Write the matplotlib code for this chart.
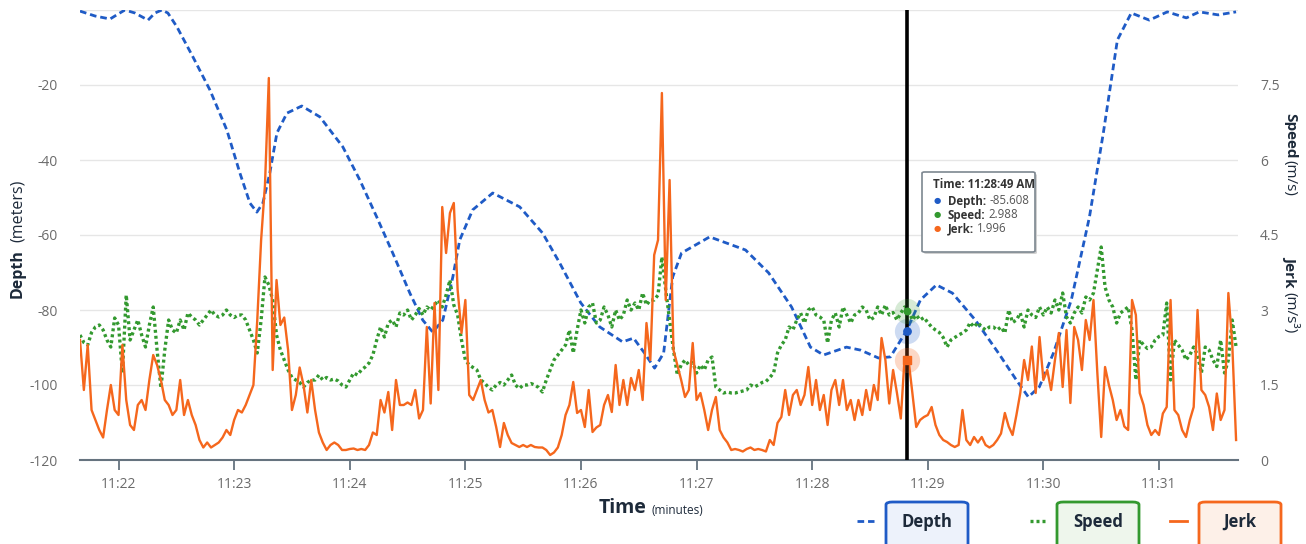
import numpy as np
import matplotlib
matplotlib.use("Agg")
import matplotlib.pyplot as plt
import matplotlib.dates as mdates
from matplotlib.patches import FancyBboxPatch
from matplotlib.lines import Line2D

plt.rcParams['font.family'] = ['Open Sans', 'DejaVu Sans']
plt.rcParams['axes.unicode_minus'] = False

# Data
START = np.datetime64('2024-01-01T11:21:40')
SAMPLE_SEC = 2  # speed / jerk are sampled every 2 s from START

# depth: (seconds after START, metres)
depth_sec = [0, 7.8, 15.6, 19.7, 23.3, 28.5, 35.3, 38.9, 42.5, 45.6, 50.3, 58.6,
             67.4, 76.2, 83, 88.2, 91.8, 94.9, 98.5, 102.2, 107.4, 115.1, 124.5,
             136.4, 145.2, 154, 162.3, 171.2, 177.9, 183.1, 188.3, 193.5, 197.1,
             203.8, 214.2, 228.2, 240.1, 249, 259.9, 269.7, 281.6, 287.3, 293.0,
             298.2, 302.9, 307.6, 312.2, 326.8, 345.4, 357.4, 369.3, 379.1, 385.9,
             397.8, 405.1, 414.4, 420.6, 428.9, 436.2, 444.5, 452.8, 464.7, 476.7,
             486, 492.2, 497.9, 505.2, 514.5, 523.9, 531.1, 538.4, 545.6, 555,
             564.3, 574.2, 580.9, 590.7, 600]
depth_m = [-0.3, -1.6, -2.4, -1.1, 0, -0.8, -2.7, -0.8, 0, -0.8, -4.5, -12.5,
           -21.3, -32, -43.5, -51.5, -53.9, -51.5, -43.5, -32.8, -27.5, -25.6, -28.5,
           -36.5, -45.3, -55.2, -64.8, -75.5, -82.7, -85.9, -82.7, -71.2, -61.3,
           -53.3, -48.8, -52.5, -59.5, -67.5, -78.1, -84.5, -88.5, -87.5, -91.5,
           -95.5, -91.5, -71.2, -64.8, -60.5, -64, -70.1, -79.2, -89.9, -92,
           -89.9, -90.7, -92.8, -92.5, -85.6, -77.3, -73.3, -75.5, -82.7, -91.5,
           -98.7, -103.2, -100.5, -91.5, -77.3, -55.2, -32.8, -8, -0.8, -2.7,
           -0.5, -2.1, -0.5, -1.3, -0.5]

speed = [
    2.5, 2.35, 2.3, 2.55, 2.66, 2.7, 2.6, 2.4, 2.26, 2.84,
    2.7, 1.74, 3.3, 2.4, 2.6, 2.8, 2.5, 2.26, 2.7, 3.06,
    2.2, 1.44, 2.2, 2.8, 2.6, 2.54, 2.8, 2.6, 2.94, 2.86,
    2.8, 2.7, 2.8, 2.9, 3.0, 2.9, 2.86, 2.9, 3.0, 2.9,
    2.85, 2.9, 2.9, 2.8, 2.6, 2.4, 2.14, 2.8, 3.66, 3.5,
    3.2,
    2.5, 2.2, 2.0, 1.8, 1.65, 1.6, 1.55, 1.46, 1.55, 1.6,
    1.6, 1.7, 1.6, 1.65, 1.6, 1.62, 1.58, 1.5, 1.46, 1.6,
    1.74, 1.7, 1.8, 1.86, 1.94, 2.1, 2.4, 2.66, 2.46, 2.74,
    2.8, 2.66, 2.94, 2.9, 3.0, 2.8, 2.9, 3.03, 2.9, 3.06,
    3.0, 3.1, 3.2, 3.06, 3.3, 3.6, 3.1, 2.9, 2.4, 2.0,
    1.9, 1.85, 1.8, 1.6, 1.54, 1.45, 1.4, 1.5, 1.55, 1.5,
    1.6, 1.7, 1.5, 1.43, 1.5, 1.5, 1.53, 1.5, 1.45, 1.36,
    1.6, 1.8, 2.0, 2.1, 2.2, 2.3, 2.6, 2.14, 2.6, 3.0,
    2.74, 3.06, 3.14, 2.74, 2.8, 3.06, 2.9, 2.66, 3.0, 2.8,
    2.9, 3.2, 3.0, 3.14, 3.0, 3.34, 3.1, 3.2, 3.2, 3.3,
    4.06, 3.4, 2.8, 2.2, 1.7, 1.9, 2.0, 1.9, 1.95, 1.74,
    1.9, 1.8, 2.0, 2.06, 1.46, 1.4, 1.34, 1.36, 1.34, 1.34,
    1.36, 1.38, 1.4, 1.5, 1.46, 1.5, 1.55, 1.57, 1.65, 1.74,
    2.14, 2.3, 2.4, 2.66, 2.6, 2.8, 2.94, 2.74, 3.0, 3.06,
    2.9, 2.86, 2.8, 2.34, 2.8, 2.94, 2.66, 3.06, 2.9, 2.74,
    2.9, 2.94, 3.06, 3.0, 2.8, 2.85, 3.06, 2.9, 3.1, 2.9,
    2.95, 2.8, 2.94, 3.06, 3.0, 2.8, 2.9, 2.8, 2.85, 2.75,
    2.66, 2.6, 2.55, 2.45, 2.26, 2.4, 2.45, 2.5, 2.54, 2.6,
    2.75, 2.66, 2.75, 2.66, 2.6, 2.66, 2.66, 2.6, 2.66, 2.54,
    3.0, 2.75, 2.8, 2.94, 2.66, 3.0, 2.9, 2.85, 3.06, 2.9,
    3.06, 2.94, 3.2, 3.0, 3.34, 2.86, 2.74, 2.94, 3.06, 2.94,
    3.26, 3.2, 3.34, 3.8, 4.26, 3.46, 3.2, 3.06, 2.74, 2.94,
    3.0, 3.06, 2.6, 1.6, 2.4, 2.3, 2.23, 2.26, 2.4, 2.47,
    2.5, 3.14, 1.6, 2.4, 2.3, 2.2, 2.0, 2.1, 2.26, 2.1,
    1.74, 2.26, 2.2, 2.0, 1.87, 2.4, 1.74, 2.0, 2.8, 2.26,
]

jerk = [
    2.4, 1.4, 2.3, 1.0, 0.8, 0.6, 0.45, 1.0, 1.5, 1.0,
    0.9, 2.3, 1.2, 0.7, 0.6, 1.1, 1.2, 1.0, 1.6, 2.1,
    1.9, 1.6, 1.2, 1.1, 0.9, 1.0, 1.6, 0.9, 1.2, 0.9,
    0.7, 0.4, 0.25, 0.35, 0.25, 0.3, 0.35, 0.45, 0.6, 0.5,
    0.8, 1.0, 0.95, 1.1, 1.3, 1.5, 2.8, 4.4, 5.5, 7.64,
    1.8,
    3.6, 2.7, 2.85, 2.2, 1.0, 1.3, 1.85, 1.5, 0.95, 1.6,
    1.0, 0.55, 0.35, 0.2, 0.3, 0.35, 0.3, 0.2, 0.2, 0.22,
    0.23, 0.2, 0.22, 0.2, 0.3, 0.55, 0.5, 1.2, 0.95, 1.36,
    0.6, 1.6, 1.1, 1.1, 1.15, 1.1, 1.4, 0.83, 1.0, 2.66,
    1.13, 3.14, 1.4, 5.06, 4.14, 4.94, 5.14, 3.4, 2.54, 3.2,
    1.3, 1.2, 1.4, 1.6, 1.2, 0.95, 1.0, 0.66, 0.26, 0.74,
    0.5, 0.34, 0.3, 0.26, 0.3, 0.26, 0.3, 0.26, 0.25, 0.25,
    0.2, 0.1, 0.15, 0.25, 0.5, 0.9, 1.1, 1.56, 0.94, 1.0,
    0.66, 1.4, 0.56, 0.65, 0.7, 1.1, 1.3, 0.96, 1.9, 1.1,
    1.6, 1.1, 1.64, 1.4, 1.8, 1.2, 2.74, 2.0, 4.1, 4.4,
    7.34, 3.2, 5.6, 2.2, 1.9, 1.6, 1.26, 1.4, 2.34, 1.2,
    1.34, 1.0, 0.6, 1.0, 1.26, 0.6, 0.45, 0.35, 0.2, 0.22,
    0.2, 0.17, 0.22, 0.25, 0.2, 0.22, 0.2, 0.17, 0.4, 0.3,
    0.74, 0.86, 1.4, 0.9, 1.3, 1.4, 1.1, 1.3, 1.86, 1.1,
    1.6, 1.0, 1.3, 0.7, 1.4, 1.6, 1.1, 1.6, 1.0, 1.2,
    0.8, 1.2, 0.9, 1.4, 1.0, 1.5, 1.2, 2.44, 2.0, 1.13,
    1.8, 1.34, 0.83, 2.06, 2.0, 1.34, 0.66, 0.8, 0.86, 0.9,
    1.06, 0.7, 0.5, 0.4, 0.36, 0.3, 0.26, 0.3, 1.0, 0.4,
    0.3, 0.46, 0.35, 0.46, 0.3, 0.25, 0.3, 0.4, 0.53, 0.94,
    0.67, 0.5, 0.9, 1.34, 2.0, 1.6, 2.27, 1.34, 2.46, 1.6,
    1.8, 1.4, 2.0, 2.54, 1.46, 2.6, 1.14, 2.66, 2.4, 1.8,
    2.8, 2.4, 3.2, 1.74, 0.46, 1.86, 1.5, 1.2, 0.8, 1.0,
    0.67, 0.6, 3.2, 2.9, 1.34, 1.1, 0.7, 0.5, 0.6, 0.5,
    0.93, 1.06, 3.2, 1.0, 0.9, 0.6, 0.46, 0.8, 1.06, 3.0,
    1.4, 1.3, 1.06, 0.6, 1.33, 0.8, 1.0, 3.34, 2.34, 0.4,
]

# hovered point shown in the tooltip
cursor_time = np.datetime64('2024-01-01T11:28:49')
cursor_label = "11:28:49 AM"
cursor_depth = -85.608
cursor_speed = 2.988
cursor_jerk = 1.996

DEPTH_C = '#1f5bc6'
SPEED_C = '#33992f'
JERK_C = '#f5671d'
TEXT_C = '#1d2a3a'
TICK_C = '#6b6b6b'

W, H = 1306, 544


def fx(x):
    return x / W


def fy(y):
    return 1 - y / H


fig = plt.figure(figsize=(W / 100, H / 100), dpi=100)
renderer = fig.canvas.get_renderer()
ax = fig.add_axes([fx(80), fy(460), fx(1238) - fx(80), fy(10) - fy(460)])
ax2 = ax.twinx()

sample_times = START + np.arange(len(speed)) * np.timedelta64(SAMPLE_SEC, 's')
depth_times = START + (np.array(depth_sec) * 1000).astype('timedelta64[ms]')

ax.plot(depth_times, depth_m, color=DEPTH_C, lw=2, dashes=(2.4, 1.4))
ax2.plot(sample_times, speed, color=SPEED_C, lw=2.4, linestyle=(0, (0.9, 0.9)))
ax2.plot(sample_times, jerk, color=JERK_C, lw=1.7)

ax.set_xlim(START, START + np.timedelta64(601, 's'))
ax.set_ylim(-120, 0)
ax2.set_ylim(0, 9)

ax.set_yticks([-120, -100, -80, -60, -40, -20])
ax2.set_yticks([0, 1.5, 3, 4.5, 6, 7.5])
ax2.set_yticklabels(['0', '1.5', '3', '4.5', '6', '7.5'])
ax.grid(axis='y', color='#e6e6e6', lw=1)
ax.axhline(0, color='#e6e6e6', lw=1, zorder=0)
ax.set_axisbelow(True)

ax.xaxis.set_major_locator(mdates.MinuteLocator())
ax.xaxis.set_major_formatter(mdates.DateFormatter('%H:%M'))

for a in (ax, ax2):
    for s in ('top', 'left', 'right', 'bottom'):
        a.spines[s].set_visible(False)
ax.spines['bottom'].set_visible(True)
ax.spines['bottom'].set_color('#66737f')
ax.spines['bottom'].set_linewidth(1.5)
ax.tick_params(axis='x', colors='#66737f', length=7, width=1.3, labelcolor=TICK_C,
               labelsize=10, pad=5)
ax.tick_params(axis='y', length=0, labelcolor=TICK_C, labelsize=10, pad=16)
ax2.tick_params(axis='y', length=0, labelcolor=TICK_C, labelsize=10, pad=16)

# cursor line and hovered markers
ax2.axvline(cursor_time, color='black', lw=2.6, zorder=5)
ax.scatter([cursor_time], [cursor_depth], s=330, color=DEPTH_C, alpha=0.22, lw=0, zorder=6)
ax2.scatter([cursor_time], [cursor_speed], s=330, color=SPEED_C, alpha=0.2, lw=0, zorder=6)
ax2.scatter([cursor_time], [cursor_jerk], s=330, color=JERK_C, alpha=0.25, lw=0, zorder=6)
ax2.scatter([cursor_time], [cursor_speed], s=22, color=SPEED_C, zorder=7)
ax2.scatter([cursor_time], [cursor_jerk], s=30, marker='s', color=JERK_C, zorder=7)
ax2.scatter([cursor_time], [cursor_depth / 120 * 9 + 9], s=28, color=DEPTH_C, zorder=7)

# axis titles
fig.text(fx(18), fy(298), 'Depth', rotation=90, ha='center', va='bottom',
         fontsize=11.5, fontweight='bold', color=TEXT_C)
fig.text(fx(18), fy(242), '(meters)', rotation=90, ha='center', va='bottom',
         fontsize=11.5, color=TEXT_C)
fig.text(fx(1290), fy(113), 'Speed', rotation=270, ha='center', va='top',
         fontsize=11, fontweight='bold', color=TEXT_C)
fig.text(fx(1290), fy(160), '(m/s)', rotation=270, ha='center', va='top',
         fontsize=11, color=TEXT_C)
fig.text(fx(1290), fy(256), 'Jerk', rotation=270, ha='center', va='top',
         fontsize=11, fontweight='bold', color=TEXT_C)
fig.text(fx(1290), fy(292), '(m/s³)', rotation=270, ha='center', va='top',
         fontsize=11, color=TEXT_C)

fig.text(fx(599), fy(508), 'Time', ha='left', va='center', fontsize=14,
         fontweight='bold', color=TEXT_C)
fig.text(fx(652), fy(511), '(minutes)', ha='left', va='center', fontsize=8.5,
         color=TEXT_C)

# tooltip
shadow = FancyBboxPatch((fx(924), fy(254)), fx(113), fy(172) - fy(252),
                        boxstyle='round,pad=0,rounding_size=0.002',
                        transform=fig.transFigure, facecolor='#d0d0d0',
                        edgecolor='none', zorder=9)
fig.add_artist(shadow)
tip = FancyBboxPatch((fx(922), fy(252)), fx(113), fy(172) - fy(252),
                     boxstyle='round,pad=0,rounding_size=0.002',
                     transform=fig.transFigure, facecolor='white',
                     edgecolor='#7d8790', lw=1.2, zorder=10)
fig.add_artist(tip)
fig.text(fx(933), fy(185), 'Time: ' + cursor_label, ha='left', va='center',
         fontsize=8.3, fontweight='bold', color='#333333', zorder=11)
rows = [('Depth:', f'{cursor_depth:.3f}', DEPTH_C, 201),
        ('Speed:', f'{cursor_speed:.3f}', SPEED_C, 215),
        ('Jerk:', f'{cursor_jerk:.3f}', JERK_C, 229)]
for name, val, col, yy in rows:
    fig.text(fx(937), fy(yy), '●', ha='center', va='center', fontsize=6,
             color=col, zorder=11, family='DejaVu Sans')
    t = fig.text(fx(948), fy(yy), name, ha='left', va='center', fontsize=8.3,
                 fontweight='bold', color='#333333', zorder=11)
    width = t.get_window_extent(renderer).width
    fig.text(fx(948 + width + 3), fy(yy), val, ha='left', va='center', fontsize=8.3,
             color='#555555', zorder=11)

# legend
legend_items = [('Depth', DEPTH_C, '#edf2fb', 857, 886, dict(dashes=(2.4, 1.4))),
                ('Speed', SPEED_C, '#eef6ec', 1030, 1057, dict(linestyle=(0, (0.9, 0.9)))),
                ('Jerk', JERK_C, '#fdf0e8', 1170, 1199, dict())]
for label, col, fill, lx, bx, style in legend_items:
    lw = 2.4 if label == 'Speed' else 2
    fig.add_artist(Line2D([fx(lx), fx(lx + 17)], [fy(521), fy(521)],
                          transform=fig.transFigure, color=col, lw=lw, **style))
    box = FancyBboxPatch((fx(bx), fy(575)), fx(82), fy(502) - fy(575),
                         boxstyle='round,pad=0,rounding_size=0.005',
                         transform=fig.transFigure, facecolor=fill,
                         edgecolor=col, lw=2, clip_on=False)
    fig.add_artist(box)
    fig.text(fx(bx + 41), fy(522), label, ha='center', va='center',
             fontsize=12, fontweight='bold', color=TEXT_C)

fig.savefig('out.png', dpi=100)
